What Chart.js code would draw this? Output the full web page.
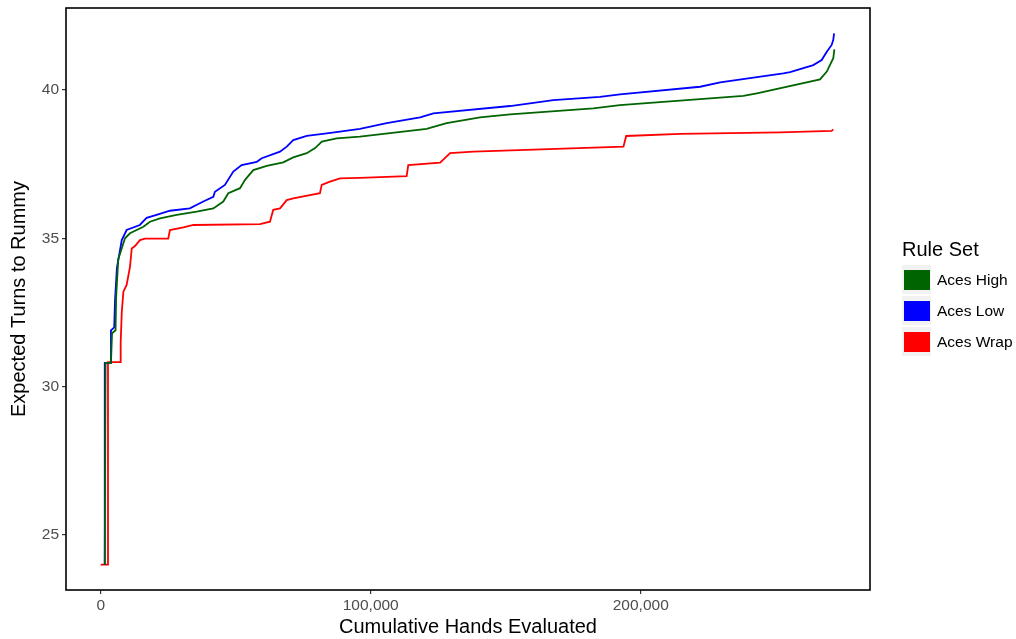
<!DOCTYPE html>
<html>
<head>
<meta charset="utf-8">
<script src="https://cdn.jsdelivr.net/npm/chart.js@4"></script>
<style>
  html, body { margin: 0; padding: 0; background: #fff; }
  #wrap { position: relative; width: 1016px; height: 639px; }
  #legend { position: absolute; left: 902px; top: 238px; font-family: "Liberation Sans", Arial, sans-serif; }
  #legend .title { font-size: 20px; color: #000; margin-bottom: 3px; }
  #legend .row { display: flex; align-items: center; height: 31px; }
  #legend .key { width: 29px; height: 29px; background: #f2f2f2; position: relative; }
  #legend .key span { position: absolute; left: 2px; top: 5px; width: 26px; height: 20px; }
  #legend .lab { font-size: 15.5px; color: #000; margin-left: 6px; }
</style>
</head>
<body>
<div id="wrap">
  <canvas id="myChart" width="1016" height="639"></canvas>
  <div id="legend"></div>
</div>
<script>
var seriesNames = ["Aces High", "Aces Low", "Aces Wrap"];
var seriesColors = ["#006400", "#0000ff", "#ff0000"];
var xTicks = [0, 100000, 200000];
var yTicks = [25, 30, 35, 40];

// Aces High
var highX = [1500, 1800, 3800, 4200, 5500, 5700, 6500, 9000, 10850, 15800, 18250, 21950, 28150, 35550, 41700, 45400, 47250, 51600, 53450, 56500, 61500, 67600, 71300, 76300, 79400, 81900, 87400, 96000, 120700, 128100, 140500, 151600, 182400, 192300, 238000, 243000, 266400, 268900, 271300, 271700];
var highY = [24, 30.8, 30.8, 31.8, 31.9, 33.0, 34.3, 35.0, 35.17, 35.39, 35.56, 35.67, 35.79, 35.90, 36.01, 36.24, 36.52, 36.69, 36.97, 37.30, 37.44, 37.56, 37.73, 37.87, 38.04, 38.26, 38.37, 38.43, 38.69, 38.88, 39.08, 39.18, 39.38, 39.49, 39.80, 39.89, 40.36, 40.62, 41.07, 41.37];

// Aces Low
var lowX = [1500, 1500, 3800, 3800, 5000, 5300, 6000, 7800, 9600, 14500, 17000, 20700, 25650, 33000, 38000, 41700, 42300, 46000, 49100, 52200, 57800, 59650, 66400, 68900, 71300, 76300, 83700, 88600, 96000, 105900, 118300, 123200, 151600, 167600, 184900, 192300, 222000, 229400, 252800, 255300, 263900, 267000, 268900, 270700, 271300, 271600];
var lowY = [24, 30.8, 30.8, 31.9, 32.0, 32.9, 34.0, 34.94, 35.28, 35.45, 35.69, 35.79, 35.93, 36.01, 36.24, 36.40, 36.57, 36.80, 37.25, 37.47, 37.58, 37.70, 37.92, 38.09, 38.31, 38.45, 38.54, 38.60, 38.69, 38.88, 39.08, 39.21, 39.46, 39.66, 39.77, 39.85, 40.11, 40.26, 40.56, 40.60, 40.84, 41.01, 41.29, 41.52, 41.69, 41.91];

// Aces Wrap
var wrapX = [0, 2700, 2700, 7400, 7400, 7800, 8400, 9600, 10850, 11500, 12700, 14550, 16400, 25000, 25650, 30600, 34300, 59000, 62700, 63900, 66400, 68900, 71300, 81200, 81850, 84900, 88600, 96000, 113300, 113900, 125700, 129400, 138000, 193600, 194600, 214600, 251600, 270700, 271300];
var wrapY = [24, 24, 30.83, 30.83, 31.5, 32.5, 33.2, 33.43, 34.04, 34.66, 34.74, 34.94, 34.99, 34.99, 35.28, 35.37, 35.45, 35.48, 35.56, 35.96, 36.01, 36.29, 36.35, 36.52, 36.80, 36.91, 37.02, 37.04, 37.10, 37.47, 37.55, 37.87, 37.92, 38.09, 38.45, 38.52, 38.57, 38.62, 38.67];

function toPoints(xs, ys) {
  return xs.map((x, i) => ({ x: x, y: ys[i] }));
}

var allData = [toPoints(highX, highY), toPoints(lowX, lowY), toPoints(wrapX, wrapY)];

// panel border like ggplot
const borderPlugin = {
  id: 'panelBorder',
  afterDraw(chart) {
    const a = chart.chartArea;
    const ctx = chart.ctx;
    ctx.save();
    ctx.strokeStyle = '#000';
    ctx.lineWidth = 1.6;
    ctx.strokeRect(a.left, a.top, a.right - a.left, a.bottom - a.top);
    ctx.restore();
  }
};

const fontFam = '"Liberation Sans", Arial, sans-serif';

new Chart("myChart", {
  type: "line",
  data: {
    datasets: seriesNames.map((name, i) => ({
      label: name,
      data: allData[i],
      borderColor: seriesColors[i],
      backgroundColor: seriesColors[i],
      borderWidth: 1.8,
      pointRadius: 0,
      tension: 0,
      fill: false
    }))
  },
  options: {
    responsive: false,
    animation: false,
    layout: { padding: { top: 8, right: 146, left: 0, bottom: 0 } },
    plugins: { legend: { display: false }, tooltip: { enabled: false } },
    scales: {
      x: {
        type: "linear",
        min: -12850,
        max: 284900,
        afterBuildTicks: s => { s.ticks = xTicks.map(v => ({ value: v })); },
        afterFit: s => { s.height = 49; s.paddingLeft = 0; s.paddingRight = 0; },
        grid: { drawOnChartArea: false, drawTicks: true, tickLength: 4, color: '#333', lineWidth: 1.2 },
        border: { display: false },
        ticks: {
          color: '#4d4d4d',
          font: { family: fontFam, size: 15.5 },
          padding: 2,
          maxRotation: 0,
          callback: v => v.toLocaleString('en-US')
        },
        title: {
          display: true,
          text: "Cumulative Hands Evaluated",
          color: '#000',
          font: { family: fontFam, size: 20 },
          padding: { top: 0, bottom: 0 }
        }
      },
      y: {
        type: "linear",
        min: 23.146,
        max: 42.764,
        afterBuildTicks: s => { s.ticks = yTicks.map(v => ({ value: v })); },
        afterFit: s => { s.width = 66; s.paddingTop = 0; s.paddingBottom = 0; },
        grid: { drawOnChartArea: false, drawTicks: true, tickLength: 4, color: '#333', lineWidth: 1.2 },
        border: { display: false },
        ticks: {
          color: '#4d4d4d',
          font: { family: fontFam, size: 15.5 },
          padding: 3
        },
        title: {
          display: true,
          text: "Expected Turns to Rummy",
          color: '#000',
          font: { family: fontFam, size: 20 },
          padding: { top: 7, bottom: 8 }
        }
      }
    }
  },
  plugins: [borderPlugin]
});

// legend
const legendEl = document.getElementById('legend');
let html = '<div class="title">Rule Set</div>';
seriesNames.forEach((name, i) => {
  html += `<div class="row"><div class="key"><span style="background:${seriesColors[i]}"></span></div><div class="lab">${name}</div></div>`;
});
legendEl.innerHTML = html;
</script>
</body>
</html>
